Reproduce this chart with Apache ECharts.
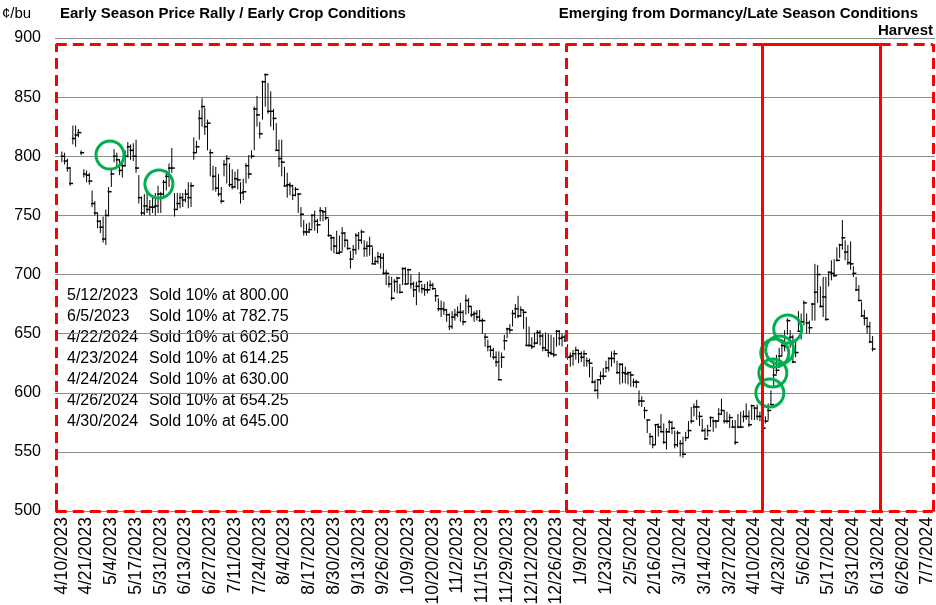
<!DOCTYPE html>
<html>
<head>
<meta charset="utf-8">
<script src="https://cdn.jsdelivr.net/npm/echarts@6/dist/echarts.min.js"></script>
<style>
  html, body { margin: 0; padding: 0; background: #fff; }
  #chart { width: 936px; height: 605px; }
</style>
</head>
<body>
<div id="chart"></div>
<script>
// tick labels, one every 9 trading days
var tickLabels = ['4/10/2023','4/21/2023','5/4/2023','5/17/2023','5/31/2023','6/13/2023','6/27/2023','7/11/2023',
  '7/24/2023','8/4/2023','8/17/2023','8/30/2023','9/13/2023','9/26/2023','10/9/2023','10/20/2023','11/2/2023',
  '11/15/2023','11/29/2023','12/12/2023','12/26/2023','1/9/2024','1/23/2024','2/5/2024','2/16/2024','3/1/2024',
  '3/14/2024','3/27/2024','4/10/2024','4/23/2024','5/6/2024','5/17/2024','5/31/2024','6/13/2024','6/26/2024','7/7/2024'];

// daily bars (cents/bu)
var highs = [804,803,798,791,826,826,823,805,789,788,786,771,762,752,746,749,755,774,790,806,
  803,797,797,805,812,810,811,814,784,766,768,769,763,766,769,775,770,780,788,794,
  807,769,769,769,769,772,778,778,816,813,839,849,841,831,806,792,791,785,774,797,
  801,794,789,787,789,778,781,794,801,805,842,851,829,864,870,862,855,840,828,814,
  814,791,786,778,776,774,769,757,746,743,744,751,754,747,757,754,757,747,733,732,
  737,733,740,736,729,720,725,735,736,738,729,728,732,723,715,719,718,718,704,699,
  698,696,698,692,706,706,705,700,694,694,702,692,692,694,695,693,687,680,678,677,
  671,667,669,671,673,676,670,683,680,673,669,670,670,663,650,645,640,638,635,635,
  634,649,655,658,670,675,682,673,670,664,656,647,651,653,653,650,651,650,649,647,
  653,653,650,649,641,634,636,639,636,635,636,630,629,622,611,611,618,621,627,630,
  635,636,627,625,625,622,618,618,612,611,602,597,588,577,566,563,573,574,582,574,
  570,577,576,568,568,560,563,567,576,588,591,594,584,578,570,573,580,578,577,587,
  595,585,584,582,577,577,582,584,585,591,585,590,588,590,584,584,580,591,602,625,
  632,638,645,653,663,653,649,645,669,667,678,667,661,676,709,708,690,698,698,702,
  712,713,723,726,746,729,725,728,707,698,691,677,670,664,660,648];
var lows = [795,793,787,775,810,808,816,801,782,778,776,757,750,739,735,727,725,749,774,795,
  790,784,782,791,799,797,796,786,760,750,750,752,750,752,750,752,752,766,771,774,
  786,749,755,756,757,761,756,757,797,803,814,825,818,805,783,771,770,766,760,783,
  777,774,772,773,772,760,763,777,781,798,805,825,815,831,842,836,825,822,805,791,
  783,774,765,767,763,766,752,740,733,733,735,739,737,735,745,745,746,732,720,718,
  718,717,720,723,721,705,714,717,721,726,715,715,716,709,708,709,705,700,691,689,
  678,685,684,684,691,691,692,688,681,674,685,684,682,684,688,687,677,669,664,666,
  660,653,654,661,664,660,657,666,667,664,660,661,660,650,639,635,630,628,622,611,
  621,636,646,650,656,663,663,664,654,640,639,637,640,641,640,635,636,630,632,630,
  639,640,639,643,628,622,623,628,625,626,622,622,613,608,601,595,607,611,617,618,
  622,625,616,607,608,608,607,605,605,604,589,588,578,566,556,553,556,563,567,557,
  552,566,565,553,554,546,545,559,562,574,580,577,572,567,560,563,571,567,570,576,
  581,574,574,570,570,556,570,570,575,577,571,577,577,577,576,569,574,577,590,604,
  616,621,631,635,649,638,625,630,652,645,657,650,650,661,661,676,672,664,661,690,
  695,698,711,714,721,712,708,704,698,686,678,664,657,650,642,635];
var closes = [800,796,790,777,815,818,820,803,785,784,779,760,752,745,740,730,750,770,785,800,
  797,788,792,800,808,805,800,790,765,752,758,755,757,757,758,768,768,778,783,790,
  790,755,760,765,763,768,765,775,803,808,832,842,825,828,803,783,773,768,762,793,
  798,776,774,781,780,769,770,792,785,800,840,835,819,863,869,838,838,832,805,798,
  795,775,776,775,767,772,768,751,736,736,738,750,745,742,754,753,748,733,731,724,
  718,719,735,729,722,713,721,733,729,736,722,724,724,709,711,715,714,701,701,692,
  680,694,697,685,705,692,704,692,687,690,694,688,687,687,691,688,682,671,671,670,
  666,656,664,666,668,668,660,678,673,666,667,664,661,661,647,639,636,630,626,611,
  630,644,654,653,667,671,665,670,668,640,640,639,642,651,648,638,636,634,633,632,
  652,646,647,644,630,631,633,636,633,630,633,627,625,609,602,611,614,614,621,629,
  629,633,617,624,617,616,617,615,609,609,593,593,585,577,563,556,573,571,567,558,
  567,575,570,556,566,557,548,562,568,576,588,588,580,568,561,568,579,576,576,582,
  585,576,576,579,571,558,571,571,580,580,573,589,587,580,580,570,576,585,590,615,
  619,631,640,639,661,647,626,634,652,660,676,659,655,675,685,700,673,681,662,702,
  701,699,712,725,731,719,710,709,701,687,678,665,663,656,643,637];

// green circles marking the sales (bar position, price)
var saleIdx = [17.5, 35.3, 257.6, 258.7, 259.4, 261.2, 264.1];
var saleVal = [801, 776.5, 599.8, 616.7, 633.6, 636.2, 653.9];

var saleDates = ['5/12/2023','6/5/2023','4/22/2024','4/23/2024','4/24/2024','4/26/2024','4/30/2024'];
var saleText = ['Sold 10% at 800.00','Sold 10% at 782.75','Sold 10% at 602.50','Sold 10% at 614.25',
  'Sold 10% at 630.00','Sold 10% at 654.25','Sold 10% at 645.00'];

// season boxes, edges in bar positions
var zoneEdges = [-2.2, 183.7, 255.0, 297.6, 316.9];
var zoneTop = 895;

var bars = highs.map(function (h, i) { return [i, h, lows[i], closes[i]]; });
var ticks = tickLabels.map(function (t, i) { return i * 9; });

var chart = echarts.init(document.getElementById('chart'));

function renderBar(params, api) {
  var x = api.value(0);
  var hi = api.coord([x, api.value(1)]);
  var lo = api.coord([x, api.value(2)]);
  var cl = api.coord([x, api.value(3)]);
  return {
    type: 'group',
    children: [
      { type: 'line', shape: { x1: hi[0], y1: hi[1], x2: lo[0], y2: lo[1] }, style: { stroke: '#000', lineWidth: 1 } },
      { type: 'line', shape: { x1: cl[0] - 1, y1: cl[1], x2: cl[0] + 3, y2: cl[1] }, style: { stroke: '#000', lineWidth: 1.5 } }
    ]
  };
}

var dashed = { color: '#FF0000', width: 3, type: [11, 6] };
var solid = { color: '#FF0000', width: 3, type: 'solid' };
function seg(x1, y1, x2, y2, st) {
  return [{ coord: [x1, y1], lineStyle: st }, { coord: [x2, y2] }];
}
var e = zoneEdges;
var boxLines = [
  seg(e[0], 500, e[0], zoneTop, dashed),
  seg(e[0], zoneTop, e[2], zoneTop, dashed),
  seg(e[0], 500, e[4], 500, dashed),
  seg(e[1], 500, e[1], zoneTop, dashed),
  seg(e[3], zoneTop, e[4], zoneTop, dashed),
  seg(e[4], 500, e[4], zoneTop, dashed),
  seg(e[2], 500, e[2], zoneTop, solid),
  seg(e[2], zoneTop, e[3], zoneTop, solid),
  seg(e[3], 500, e[3], zoneTop, solid)
];

var option = {
  animation: false,
  backgroundColor: '#fff',
  grid: { left: 55, right: 1, top: 38, bottom: 94, outerBoundsMode: 'none', containLabel: false },
  xAxis: {
    type: 'value',
    min: -2.5,
    max: 317.7,
    splitLine: { show: false },
    axisLine: { lineStyle: { color: '#8c8c8c' } },
    axisTick: { show: false },
    axisLabel: {
      customValues: ticks,
      rotate: 90,
      margin: 6,
      color: '#000',
      fontFamily: 'Liberation Sans, Arial, sans-serif',
      fontSize: 17.5,
      formatter: function (v) { return tickLabels[Math.round(v / 9)]; }
    }
  },
  yAxis: {
    type: 'value',
    min: 500,
    max: 900,
    interval: 50,
    axisLine: { show: false },
    axisTick: { show: false },
    splitLine: { lineStyle: { color: '#8c8c8c', width: 1 } },
    axisLabel: { color: '#000', fontFamily: 'Liberation Sans, Arial, sans-serif', fontSize: 16, margin: 14 }
  },
  series: [
    {
      type: 'line',
      data: [],
      silent: true,
      markLine: {
        silent: true,
        symbol: ['none', 'none'],
        label: { show: false },
        emphasis: { disabled: true },
        data: boxLines
      }
    },
    {
      type: 'custom',
      renderItem: renderBar,
      encode: { x: 0, y: [1, 2, 3] },
      data: bars,
      z: 3
    },
    {
      type: 'scatter',
      data: saleIdx.map(function (x, i) { return [x, saleVal[i]]; }),
      symbol: 'circle',
      symbolSize: 28,
      itemStyle: { color: 'rgba(0,0,0,0)', borderColor: '#00B050', borderWidth: 3, opacity: 1 },
      z: 4
    }
  ],
  graphic: [
    { type: 'text', left: 2, top: 6, style: { text: '¢/bu', font: '15px "Liberation Sans", Arial', fill: '#000' } },
    { type: 'text', left: 60, top: 6, style: { text: 'Early Season Price Rally / Early Crop Conditions', font: 'bold 15px "Liberation Sans Narrow", "Liberation Sans", Arial', fill: '#000' } },
    { type: 'text', right: 18, top: 6, style: { text: 'Emerging from Dormancy/Late Season Conditions', font: 'bold 15px "Liberation Sans Narrow", "Liberation Sans", Arial', fill: '#000' } },
    { type: 'text', right: 3, top: 23, style: { text: 'Harvest', font: 'bold 15px "Liberation Sans Narrow", "Liberation Sans", Arial', fill: '#000' } },
    { type: 'text', left: 67, top: 285, style: { text: saleDates.join('\n'), font: '16px "Liberation Sans", Arial', lineHeight: 21, fill: '#000' } },
    { type: 'text', left: 149, top: 285, style: { text: saleText.join('\n'), font: '16px "Liberation Sans", Arial', lineHeight: 21, fill: '#000' } }
  ]
};

chart.setOption(option);
</script>
</body>
</html>
